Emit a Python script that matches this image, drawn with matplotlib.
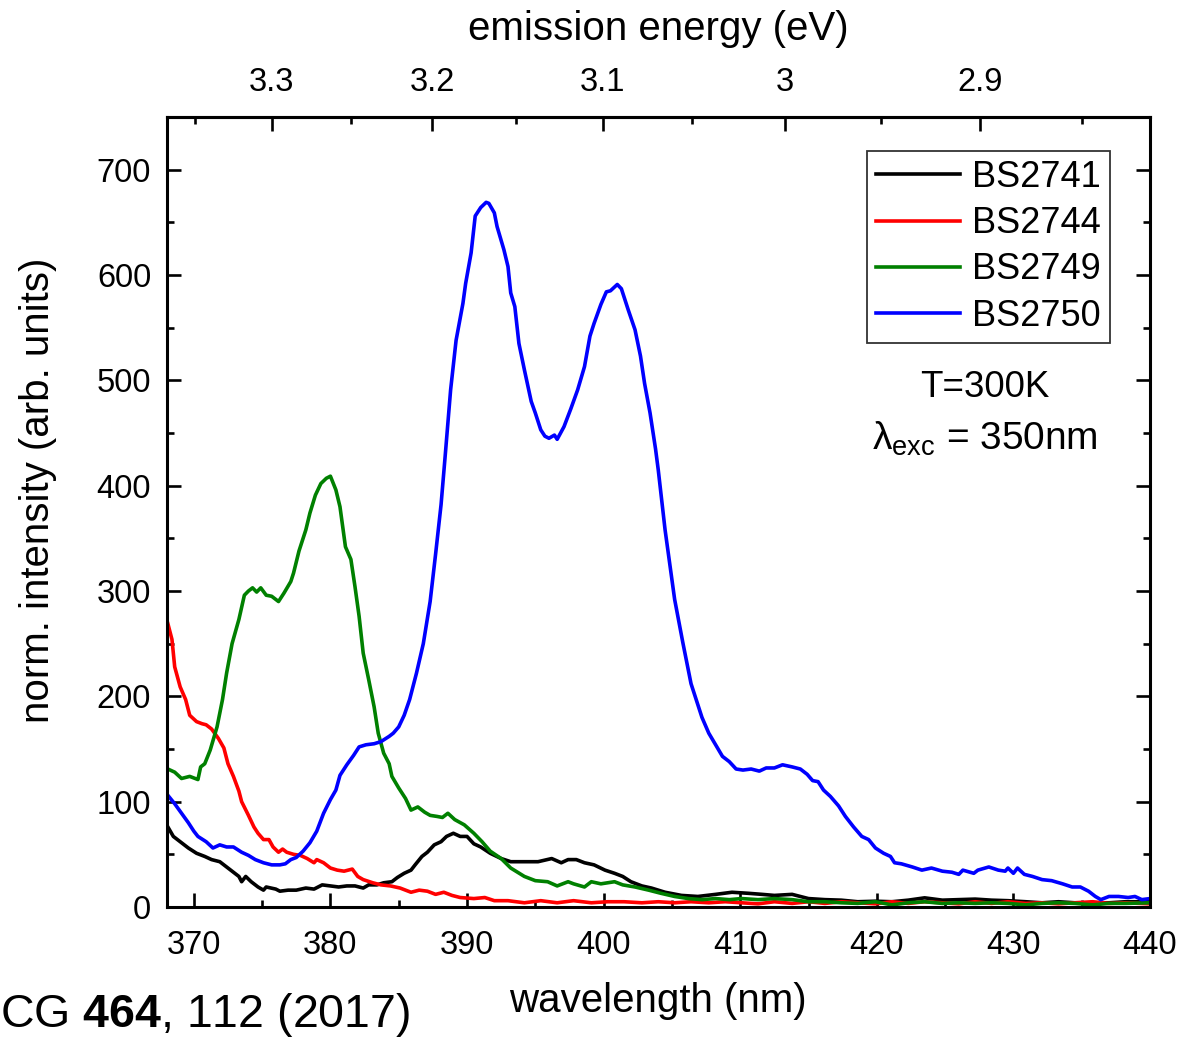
import numpy as np
import matplotlib
matplotlib.use("Agg")
import matplotlib.pyplot as plt
from matplotlib.ticker import FixedLocator, MultipleLocator

plt.rcParams["font.family"] = ["Liberation Sans", "DejaVu Sans"]
plt.rcParams["mathtext.fontset"] = "custom"
plt.rcParams["mathtext.rm"] = "Liberation Sans"
plt.rcParams["mathtext.bf"] = "Liberation Sans:bold"

# ---- data (wavelength in nm, normalised intensity) ----
wl_2741 = [368.1, 368.5, 369.0, 369.6, 370.2, 370.8, 371.3, 371.9, 372.4, 372.8,
           373.3, 373.5, 373.8, 374.2, 374.7, 375.1, 375.3, 376.0, 376.3, 376.9,
           377.5, 378.2, 378.8, 379.4, 380.0, 380.6, 381.2, 381.8, 382.4, 382.8,
           383.4, 383.9, 384.5, 384.9, 385.4, 385.9, 386.2, 386.7, 387.1, 387.6,
           388.1, 388.5, 389.0, 389.5, 390.0, 390.5, 391.0, 391.7, 392.5, 393.2,
           394.2, 395.2, 396.2, 396.9, 397.4, 398.0, 398.6, 399.3, 400.1, 400.8,
           401.4, 402.0, 402.8, 403.5, 404.5, 405.7, 406.9, 408.2, 409.4, 410.6,
           411.6, 412.5, 413.8, 415.0, 416.2, 417.4, 418.6, 419.9, 421.1, 422.3,
           423.5, 424.8, 426.0, 427.2, 428.4, 429.6, 430.9, 432.1, 433.3, 434.5,
           435.8, 437.0, 438.2, 440.0]
bs2741 = [76, 67, 62, 56, 51, 48, 45, 43, 38, 34,
          29, 24, 29, 24, 19, 16, 19, 17, 15, 16,
          16, 18, 17, 21, 20, 19, 20, 20, 18, 21,
          21, 23, 24, 28, 32, 35, 40, 48, 52, 59,
          62, 67, 70, 67, 67, 60, 57, 51, 46, 43,
          43, 43, 46, 42, 45, 45, 42, 40, 35, 32,
          29, 24, 20, 18, 14, 11, 10, 12, 14, 13,
          12, 11, 12, 8, 7, 6.5, 5, 5.5, 5, 6.5,
          8.7, 6.5, 7, 7.5, 6.5, 6, 5, 4, 5, 4,
          4, 4, 5, 5]

wl_2744 = [368.1, 368.4, 368.6, 369.0, 369.4, 369.7, 370.2, 370.6, 370.9, 371.3,
           371.8, 372.2, 372.5, 372.9, 373.3, 373.5, 374.0, 374.4, 374.7, 375.1,
           375.5, 375.8, 376.2, 376.5, 376.8, 377.3, 377.8, 378.3, 378.8, 379.0,
           379.5, 380.0, 380.5, 381.0, 381.6, 382.0, 382.4, 383.1, 383.7, 384.4,
           385.1, 385.9, 386.5, 387.1, 387.7, 388.3, 388.9, 389.5, 390.5, 391.3,
           392.0, 393.0, 394.2, 395.4, 396.6, 397.8, 399.1, 400.3, 401.5, 402.8,
           404.0, 405.2, 406.4, 407.7, 408.9, 410.1, 411.3, 412.5, 413.8, 415.0,
           416.2, 417.4, 418.6, 419.9, 421.1, 422.3, 423.5, 424.8, 426.0, 427.2,
           428.4, 429.6, 430.9, 432.1, 433.3, 434.5, 435.8, 437.0, 438.2, 440.0]
bs2744 = [269, 254, 228, 209, 197, 182, 176, 174, 173, 169,
          160, 151, 136, 124, 110, 100, 87, 76, 70, 64,
          64, 57, 52, 55, 52, 50, 49, 46, 42, 45,
          42, 37, 35, 34, 36, 29, 26, 23, 21, 20,
          18, 14, 16, 15, 12, 14, 11, 9, 8, 9,
          6, 6, 4, 6, 4, 6, 4, 5, 5, 4,
          5, 4, 5, 4, 5, 4, 3, 5, 3.4, 5,
          3.4, 5, 4, 3, 5, 3.4, 5, 4, 3, 5,
          3.4, 5, 3.4, 4, 3, 4, 5, 3.4, 4, 3]

wl_2749 = [368.1, 368.6, 369.1, 369.7, 370.3, 370.5, 370.8, 371.2, 371.7, 372.1,
           372.4, 372.8, 373.3, 373.7, 374.0, 374.3, 374.6, 374.9, 375.3, 375.7,
           376.2, 376.6, 377.1, 377.3, 377.7, 378.2, 378.5, 378.9, 379.3, 379.7,
           380.0, 380.4, 380.7, 381.1, 381.5, 381.8, 382.1, 382.4, 382.8, 383.2,
           383.5, 383.9, 384.3, 384.5, 385.0, 385.5, 385.9, 386.4, 386.9, 387.3,
           387.8, 388.2, 388.6, 389.1, 389.8, 390.5, 391.1, 391.7, 392.5, 393.2,
           394.2, 395.0, 395.9, 396.6, 397.4, 397.8, 398.6, 399.1, 399.8, 400.8,
           401.4, 402.3, 403.3, 404.2, 405.2, 406.2, 407.2, 408.2, 409.2, 410.1,
           411.3, 412.5, 413.8, 415.0, 416.2, 417.4, 418.6, 419.9, 421.1, 422.3,
           423.5, 424.8, 426.0, 427.2, 428.4, 429.6, 430.9, 432.1, 433.3, 434.5,
           435.8, 437.0, 438.2, 440.0]
bs2749 = [131, 128, 122, 124, 121, 133, 136, 149, 171, 197,
          222, 250, 273, 296, 300, 303, 299, 303, 296, 295,
          290, 298, 309, 317, 338, 358, 374, 391, 402, 407,
          409, 396, 380, 342, 330, 304, 276, 241, 216, 190,
          165, 146, 136, 124, 113, 103, 92, 95, 90, 87,
          86, 85, 89, 83, 78, 70, 62, 53, 46, 37,
          29, 25, 24, 20, 24, 22, 19, 24, 22, 24,
          21, 19, 16, 13, 10, 8, 7, 8, 7, 8,
          7, 8, 7, 5, 5, 4, 3.4, 5, 2, 4,
          5, 3.4, 4, 3.4, 4, 3.4, 2, 3.4, 4, 3.4,
          2, 3.4, 3.4, 4]

wl_2750 = [368.1, 368.6, 369.1, 369.6, 370.0, 370.3, 370.9, 371.4, 371.9, 372.4,
           372.9, 373.5, 374.0, 374.5, 375.1, 375.7, 376.3, 376.7, 377.1, 377.5,
           378.0, 378.5, 379.0, 379.5, 380.0, 380.4, 380.7, 381.2, 381.7, 382.1,
           382.6, 383.2, 383.7, 384.3, 384.6, 385.0, 385.4, 385.8, 386.3, 386.8,
           387.3, 387.7, 388.1, 388.4, 388.8, 389.2, 389.7, 389.9, 390.3, 390.6,
           391.0, 391.4, 391.6, 392.0, 392.2, 392.5, 392.7, 393.0, 393.2, 393.5,
           393.8, 394.2, 394.7, 395.0, 395.4, 395.7, 396.0, 396.4, 396.6, 397.1,
           397.6, 398.1, 398.6, 399.0, 399.3, 399.8, 400.2, 400.5, 401.0, 401.3,
           401.8, 402.3, 402.7, 403.0, 403.4, 403.8, 404.0, 404.5, 405.2, 405.8,
           406.4, 407.2, 407.7, 408.2, 408.7, 409.2, 409.7, 410.2, 410.8, 411.4,
           411.9, 412.5, 413.1, 413.8, 414.4, 414.9, 415.3, 415.7, 416.1, 416.6,
           417.2, 417.7, 418.3, 418.9, 419.4, 419.9, 420.5, 421.0, 421.3, 421.8,
           422.6, 423.3, 424.0, 424.8, 425.5, 426.0, 426.3, 427.1, 427.4, 428.2,
           428.9, 429.4, 429.6, 430.0, 430.3, 430.8, 431.4, 432.1, 432.8, 433.6,
           434.3, 434.9, 435.5, 436.0, 436.4, 437.0, 437.7, 438.4, 438.9, 439.4,
           440.0]
bs2750 = [106, 98, 89, 80, 72, 67, 62, 56, 59, 57,
          57, 52, 49, 45, 42, 40, 40, 41, 45, 47,
          53, 61, 72, 89, 102, 111, 125, 135, 144, 152,
          154, 155, 157, 162, 165, 171, 182, 197, 222, 250,
          290, 335, 382, 428, 491, 538, 573, 592, 621, 656,
          664, 669, 668, 659, 646, 633, 624, 608, 583, 570,
          535, 510, 480, 469, 453, 447, 445, 448, 444, 456,
          473, 491, 513, 542, 554, 572, 584, 585, 591, 587,
          567, 548, 523, 497, 469, 435, 415, 358, 292, 251,
          212, 180, 165, 154, 143, 138, 131, 130, 131, 129,
          132, 132, 135, 133, 131, 126, 120, 119, 111, 105,
          96, 86, 76, 67, 64, 56, 51, 48, 42, 41,
          38, 35, 37, 34, 33, 31, 35, 32, 35, 38,
          35, 34, 37, 32, 37, 31, 29, 26, 25, 22,
          19, 19, 15, 10, 7, 10, 10, 9, 10, 7,
          8]

ev_ticks = [3.3, 3.2, 3.1, 3.0, 2.9]
ev_labels = ["3.3", "3.2", "3.1", "3", "2.9"]
ev_minor = [3.35, 3.25, 3.15, 3.05, 2.95, 2.85]


def wl_to_ev(x):
    x = np.asarray(x, dtype=float)
    with np.errstate(divide="ignore", invalid="ignore"):
        return 1239.84 / x


W, H = 1184, 1039
fig = plt.figure(figsize=(W / 100, H / 100), dpi=100)
ax = fig.add_axes([166.5 / W, 1 - 907 / H, (1150 - 166.5) / W, (907 - 117) / H])

lw = 2.6
ax.plot(wl_2741, bs2741, color="black", lw=lw, label="BS2741")
ax.plot(wl_2744, bs2744, color="#ff0000", lw=lw, label="BS2744")
ax.plot(wl_2749, bs2749, color="#008000", lw=lw, label="BS2749")
ax.plot(wl_2750, bs2750, color="#0000ff", lw=lw, label="BS2750")

ax.set_xlim(368, 440)
ax.set_ylim(0, 750)
ax.xaxis.set_major_locator(MultipleLocator(10))
ax.xaxis.set_minor_locator(MultipleLocator(5))
ax.yaxis.set_major_locator(MultipleLocator(100))
ax.yaxis.set_minor_locator(MultipleLocator(50))

for s in ax.spines.values():
    s.set_linewidth(2.2)

ax.tick_params(which="both", direction="in", top=False, right=True,
               width=1.9, labelsize=23.5)
ax.tick_params(which="major", length=10)
ax.tick_params(which="minor", length=5)
ax.tick_params(axis="y", pad=11)
ax.tick_params(axis="x", pad=16.5)

ax.set_xlabel("wavelength (nm)", fontsize=29, labelpad=15)
ax.set_ylabel("norm. intensity (arb. units)", fontsize=29)
ax.yaxis.set_label_coords(-0.1115, (907 - 490) / 790)

secax = ax.secondary_xaxis("top", functions=(wl_to_ev, wl_to_ev))
secax.set_xticks(ev_ticks, labels=ev_labels)
secax.xaxis.set_minor_locator(FixedLocator(ev_minor))
secax.tick_params(which="both", direction="in", width=1.9, labelsize=23.5, pad=14)
secax.tick_params(which="major", length=10)
secax.tick_params(which="minor", length=5)
secax.spines["top"].set_linewidth(2.2)
secax.set_xlabel("emission energy (eV)", fontsize=29, labelpad=19)

leg = ax.legend(loc="upper right", bbox_to_anchor=(0.9593, 0.957),
                borderaxespad=0, fontsize=26, frameon=True, fancybox=False,
                handlelength=2.3, handletextpad=0.35, labelspacing=0.31,
                borderpad=0.25)
leg.get_frame().set_edgecolor("black")
leg.get_frame().set_linewidth(1.3)

ax.text(0.832, 0.657, "T=300K", transform=ax.transAxes, fontsize=26.5,
        ha="center", va="center")
ax.text(0.832, 0.592, "λ$_{\\rm exc}$ = 350nm", transform=ax.transAxes,
        fontsize=28, ha="center", va="center")

fig.text(0.5 / W, 1 - 1015 / H, "CG $\\mathbf{464}$, 112 (2017)", fontsize=33.5,
         ha="left", va="center")

fig.savefig("out.png", dpi=100)
